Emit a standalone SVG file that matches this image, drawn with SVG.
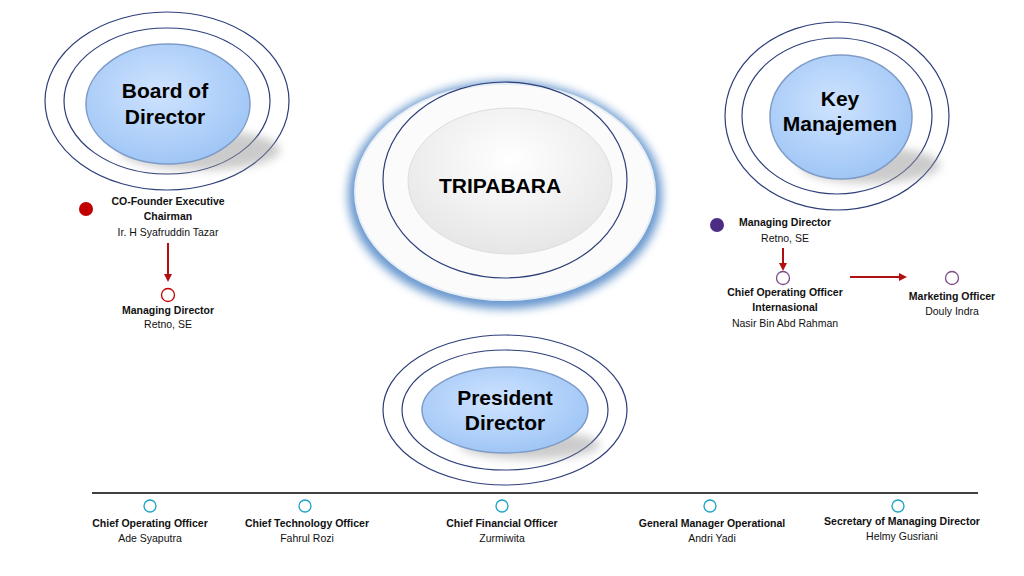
<svg xmlns="http://www.w3.org/2000/svg" width="1024" height="576" viewBox="0 0 1024 576">
<style>
.ring{fill:none;stroke:#2e3f7a;stroke-width:1.2}
.node{fill:url(#blue);stroke:#7f9cc8;stroke-width:1.5}
.big{font-family:"Liberation Sans",Arial,sans-serif;font-weight:bold;font-size:21px;text-anchor:middle;fill:#000}
.t{font-family:"Liberation Sans",Arial,sans-serif;font-weight:bold;font-size:10.5px;text-anchor:middle;fill:#111}
.n{font-family:"Liberation Sans",Arial,sans-serif;font-size:10.5px;text-anchor:middle;fill:#111}
.arr{stroke:#b01010;stroke-width:2;fill:none;marker-end:url(#ah)}
.dot{fill:#fff;stroke-width:1.3}
</style>
<defs>
<radialGradient id="blue" cx="0.45" cy="0.4" r="0.65"><stop offset="0" stop-color="#cfe3ff"/><stop offset="1" stop-color="#9cc4f5"/></radialGradient>
<radialGradient id="white" cx="0.5" cy="0.35" r="0.65"><stop offset="0" stop-color="#ffffff"/><stop offset="1" stop-color="#e6e6e6"/></radialGradient>
<filter id="sh" x="-30%" y="-30%" width="160%" height="160%"><feGaussianBlur stdDeviation="5"/></filter>
<marker id="ah" markerWidth="8" markerHeight="8" refX="6" refY="4" orient="auto" markerUnits="userSpaceOnUse"><path d="M0,0 L8,4 L0,8 Z" fill="#b01010"/></marker>
</defs>
<rect width="1024" height="576" fill="#fff"/>

<g id="board">
<ellipse class="ring" cx="167" cy="101" rx="122" ry="89"/>
<ellipse class="ring" cx="167" cy="101" rx="103" ry="73"/>
<ellipse cx="200" cy="150" rx="80" ry="20" fill="#999" opacity="0.5" filter="url(#sh)"/>
<ellipse class="node" cx="168" cy="104" rx="82" ry="60"/>
<text class="big" x="165" y="98">Board of</text>
<text class="big" x="165" y="124">Director</text>
</g>

<g id="key">
<ellipse class="ring" cx="837" cy="116" rx="112" ry="94"/>
<ellipse class="ring" cx="837" cy="116" rx="95" ry="78"/>
<ellipse cx="870" cy="165" rx="70" ry="18" fill="#999" opacity="0.5" filter="url(#sh)"/>
<ellipse class="node" cx="841" cy="117" rx="71" ry="62"/>
<text class="big" x="840" y="106">Key</text>
<text class="big" x="840" y="131">Manajemen</text>
</g>

<g id="tripabara">
<ellipse cx="505" cy="195" rx="157" ry="114" fill="#4f86c6" opacity="0.85" filter="url(#sh)"/>
<ellipse cx="505" cy="192" rx="150" ry="108" fill="#fbfbfb" stroke="#e8eef5" stroke-width="2"/>
<ellipse class="ring" cx="505" cy="180" rx="122" ry="98"/>
<ellipse cx="510" cy="181" rx="102" ry="73" fill="url(#white)" stroke="#ddd"/>
<text class="big" x="500" y="193" font-size="24">TRIPABARA</text>
</g>

<g id="president">
<ellipse class="ring" cx="505" cy="410" rx="122" ry="75"/>
<ellipse class="ring" cx="505" cy="410" rx="103" ry="60"/>
<ellipse cx="530" cy="445" rx="70" ry="14" fill="#999" opacity="0.5" filter="url(#sh)"/>
<ellipse class="node" cx="505" cy="410" rx="83" ry="43"/>
<text class="big" x="505" y="405">President</text>
<text class="big" x="505" y="430">Director</text>
</g>

<g id="cofounder">
<circle cx="86" cy="209" r="7" fill="#c00000"/>
<text class="t" x="168" y="205">CO-Founder Executive</text>
<text class="t" x="168" y="220">Chairman</text>
<text class="n" x="168" y="236">Ir. H Syafruddin Tazar</text>
</g>
<g id="md-left">
<circle class="dot" cx="168" cy="295" r="6.5" stroke="#c00000"/>
<text class="t" x="168" y="314">Managing Director</text>
<text class="n" x="168" y="328">Retno, SE</text>
</g>
<g id="md-right">
<circle cx="717" cy="225" r="7" fill="#4b2d86"/>
<text class="t" x="785" y="226">Managing Director</text>
<text class="n" x="785" y="242">Retno, SE</text>
</g>
<g id="coo-int">
<circle class="dot" cx="783" cy="278" r="6.5" stroke="#7a4a8a"/>
<text class="t" x="785" y="296">Chief Operating Officer</text>
<text class="t" x="785" y="311">Internasional</text>
<text class="n" x="785" y="327">Nasir Bin Abd Rahman</text>
</g>
<g id="marketing">
<circle class="dot" cx="952" cy="278" r="6.5" stroke="#7a4a8a"/>
<text class="t" x="952" y="300">Marketing Officer</text>
<text class="n" x="952" y="315">Douly Indra</text>
</g>

<g id="coo"><circle class="dot" cx="150" cy="506" r="6" stroke="#1aa3c8"/><text class="t" x="150" y="527">Chief Operating Officer</text><text class="n" x="150" y="542">Ade Syaputra</text></g>
<g id="cto"><circle class="dot" cx="305" cy="506" r="6" stroke="#1aa3c8"/><text class="t" x="307" y="527">Chief Technology Officer</text><text class="n" x="307" y="542">Fahrul Rozi</text></g>
<g id="cfo"><circle class="dot" cx="502" cy="506" r="6" stroke="#1aa3c8"/><text class="t" x="502" y="527">Chief Financial Officer</text><text class="n" x="502" y="542">Zurmiwita</text></g>
<g id="gm"><circle class="dot" cx="710" cy="506" r="6" stroke="#1aa3c8"/><text class="t" x="712" y="527">General Manager Operational</text><text class="n" x="712" y="542">Andri Yadi</text></g>
<g id="sec"><circle class="dot" cx="898" cy="506" r="6" stroke="#1aa3c8"/><text class="t" x="902" y="525">Secretary of Managing Director</text><text class="n" x="902" y="540">Helmy Gusriani</text></g>

<g id="connectors">
<line class="arr" x1="168" y1="243" x2="168" y2="280"/>
<line class="arr" x1="783" y1="248" x2="783" y2="269"/>
<line class="arr" x1="850" y1="277" x2="905" y2="277"/>
<line x1="92" y1="493" x2="978" y2="493" stroke="#000" stroke-width="1.5"/>
</g>
</svg>
